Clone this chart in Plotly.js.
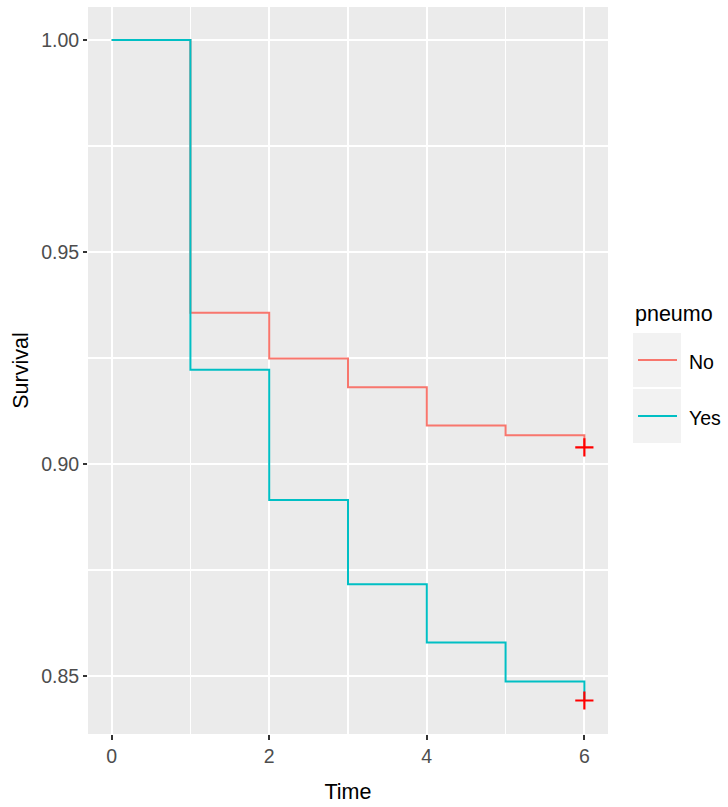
<!DOCTYPE html>
<html>
<head>
<meta charset="utf-8">
<script src="https://cdn.plot.ly/plotly-3.0.1.min.js"></script>
<style>html,body{margin:0;padding:0;background:#fff;}#chart{width:728px;height:807px;}</style>
</head>
<body>
<div id="chart"></div>
<script>
// Data
const time = [0, 1, 2, 3, 4, 5, 6];
const survNo  = [1.000, 0.9357, 0.9249, 0.9181, 0.9091, 0.9068, 0.9039];
const survYes = [1.000, 0.9222, 0.8915, 0.8716, 0.8579, 0.8487, 0.8442];
const censorTime = [6, 6];
const censorSurv = [0.9039, 0.8442];
const groupNames = ["No", "Yes"];
const groupColors = ["#F8766D", "#00BFC4"];
const xTicks = [0, 2, 4, 6];
const yTicks = [0.85, 0.90, 0.95, 1.00];
const yTickText = ["0.85", "0.90", "0.95", "1.00"];

const W = 728, H = 807;
const M = {l: 88, r: 120, t: 7, b: 73};
const PW = W - M.l - M.r, PH = H - M.t - M.b;
const px = x => (x - M.l) / PW;
const py = y => (H - M.b - y) / PH;

const FONT = "Liberation Sans, Arial, sans-serif";

const traces = [
  {x: time, y: survNo, mode: "lines", line: {shape: "hv", color: groupColors[0], width: 2}, name: groupNames[0], showlegend: false, hoverinfo: "skip"},
  {x: time, y: survYes, mode: "lines", line: {shape: "hv", color: groupColors[1], width: 2}, name: groupNames[1], showlegend: false, hoverinfo: "skip"},
  {x: censorTime, y: censorSurv, mode: "markers", marker: {symbol: "cross-thin", size: 13, line: {color: "#FF0000", width: 2.2}}, showlegend: false, hoverinfo: "skip"}
];

// legend (drawn manually to match ggplot keys)
const shapes = [];
const annotations = [];
annotations.push({xref: "paper", yref: "paper", x: px(633), y: py(314), xanchor: "left", yanchor: "middle", text: "pneumo", showarrow: false, font: {family: FONT, size: 21.5, color: "#000"}});
const keyTops = [333, 389];
for (let i = 0; i < groupNames.length; i++) {
  const top = keyTops[i], bot = top + 54, mid = (top + bot) / 2;
  shapes.push({type: "rect", xref: "paper", yref: "paper", x0: px(633), x1: px(681), y0: py(bot), y1: py(top), fillcolor: "#F2F2F2", line: {width: 0}, layer: "above"});
  shapes.push({type: "line", xref: "paper", yref: "paper", x0: px(638), x1: px(677), y0: py(mid), y1: py(mid), line: {color: groupColors[i], width: 2}, layer: "above"});
  annotations.push({xref: "paper", yref: "paper", x: px(687), y: py(mid + 2), xanchor: "left", yanchor: "middle", text: groupNames[i], showarrow: false, font: {family: FONT, size: 19.5, color: "#000"}});
}

const layout = {
  width: W, height: H,
  margin: M,
  paper_bgcolor: "#FFFFFF",
  plot_bgcolor: "#EBEBEB",
  showlegend: false,
  font: {family: FONT},
  xaxis: {
    range: [-0.3, 6.3],
    tickvals: xTicks, ticktext: xTicks.map(String),
    showgrid: true, gridcolor: "#FFFFFF", gridwidth: 2,
    minor: {dtick: 1, tick0: 0, showgrid: true, gridcolor: "#FFFFFF", gridwidth: 1.3},
    zeroline: false, showline: false,
    ticks: "outside", ticklen: 5, tickwidth: 2, tickcolor: "#333333",
    tickfont: {family: FONT, size: 19.5, color: "#4D4D4D"},
    title: {text: "Time", font: {family: FONT, size: 21.5, color: "#000"}, standoff: 17},
    fixedrange: true
  },
  yaxis: {
    range: [0.8363, 1.0078],
    tickvals: yTicks, ticktext: yTickText,
    showgrid: true, gridcolor: "#FFFFFF", gridwidth: 2,
    minor: {dtick: 0.025, tick0: 0.85, showgrid: true, gridcolor: "#FFFFFF", gridwidth: 1.3},
    zeroline: false, showline: false,
    ticks: "outside", ticklen: 4, tickwidth: 2, tickcolor: "#333333",
    tickfont: {family: FONT, size: 19.5, color: "#4D4D4D"},
    title: {text: "Survival", font: {family: FONT, size: 21.5, color: "#000"}, standoff: 6},
    fixedrange: true
  },
  shapes: shapes,
  annotations: annotations
};

Plotly.newPlot("chart", traces, layout, {displayModeBar: false, staticPlot: true});
</script>
</body>
</html>
